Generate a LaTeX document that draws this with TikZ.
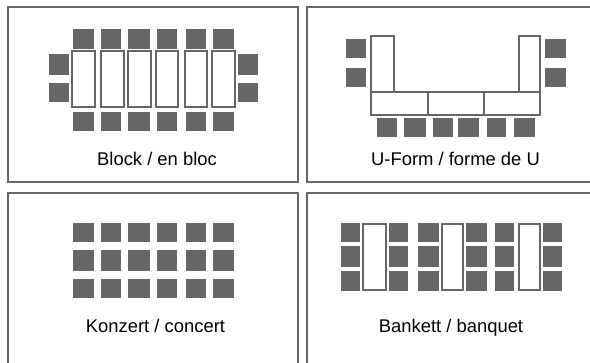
\documentclass[tikz,border=0pt]{standalone}
\usepackage{fontspec}
\setmainfont{Liberation Sans}
\definecolor{seatgray}{HTML}{666666}
\tikzset{
  seat/.style={fill=seatgray},
  tablebox/.style={draw=seatgray,line width=1.4pt,fill=white},
  frame/.style={draw=seatgray,line width=1.5pt},
  caption/.style={font=\fontsize{18.4}{20}\selectfont,text=black,inner sep=0pt,anchor=base}
}
\begin{document}
\begin{tikzpicture}[x=1pt,y=-1pt]
    \useasboundingbox (0,0) rectangle (590,363);
    \clip (0,0) rectangle (590,363);
    \fill[white] (0,0) rectangle (590,363);
    % frames
    \draw[frame] (8,7) rectangle (298,182);
    \draw[frame] (307,7) rectangle (600,182);
    \draw[frame] (8,193) rectangle (298,380);
    \draw[frame] (307,193) rectangle (600,380);
    % Block
    \foreach \xa/\xb in {73/94,101/121,128/150,157/177,186/206,213/234} {
        \fill[seat] (\xa,29) rectangle (\xb,49);
        \fill[seat] (\xa,112) rectangle (\xb,131);
    }
    \foreach \xa/\xb in {49/69,238/258} {
        \fill[seat] (\xa,54) rectangle (\xb,75);
        \fill[seat] (\xa,83) rectangle (\xb,102);
    }
    \foreach \xa/\xb in {72/95,101/124,128/151,156/178,185/207,212/235}
        \draw[tablebox] (\xa,51) rectangle (\xb,107);
    \node[caption] (block) at (157,165.5) {Block / en bloc};
    % U-Form
    \foreach \xa/\xb in {346/366,545/566} {
        \fill[seat] (\xa,39) rectangle (\xb,58);
        \fill[seat] (\xa,68) rectangle (\xb,87);
    }
    \foreach \xa/\xb in {377/397,404/426,433/453,458/479,487/506,514/535}
        \fill[seat] (\xa,118) rectangle (\xb,137);
    \draw[tablebox] (371,36) rectangle (394,92);
    \draw[tablebox] (519,36) rectangle (540,92);
    \draw[tablebox] (371,92) rectangle (428,115);
    \draw[tablebox] (428,92) rectangle (484,115);
    \draw[tablebox] (484,92) rectangle (540,115);
    \node[caption] (uform) at (455.5,165.5) {U-Form / forme de U};
    % Konzert
    \foreach \ya/\yb in {223/242,250/271,279/298}
        \foreach \xa/\xb in {73/94,101/121,128/150,157/177,186/206,213/234}
            \fill[seat] (\xa,\ya) rectangle (\xb,\yb);
    \node[caption] (konzert) at (155.5,333) {Konzert / concert};
    % Bankett
    \foreach \ya/\yb in {223/242,246/267,271/291}
        \foreach \xa/\xb in {341/360,389/408,418/439,466/487,495/514,543/562}
            \fill[seat] (\xa,\ya) rectangle (\xb,\yb);
    \foreach \xa/\xb in {363/386,442/463,519/540}
        \draw[tablebox] (\xa,224) rectangle (\xb,290);
    \node[caption] (bankett) at (451,333) {Bankett / banquet};
\end{tikzpicture}
\end{document}
